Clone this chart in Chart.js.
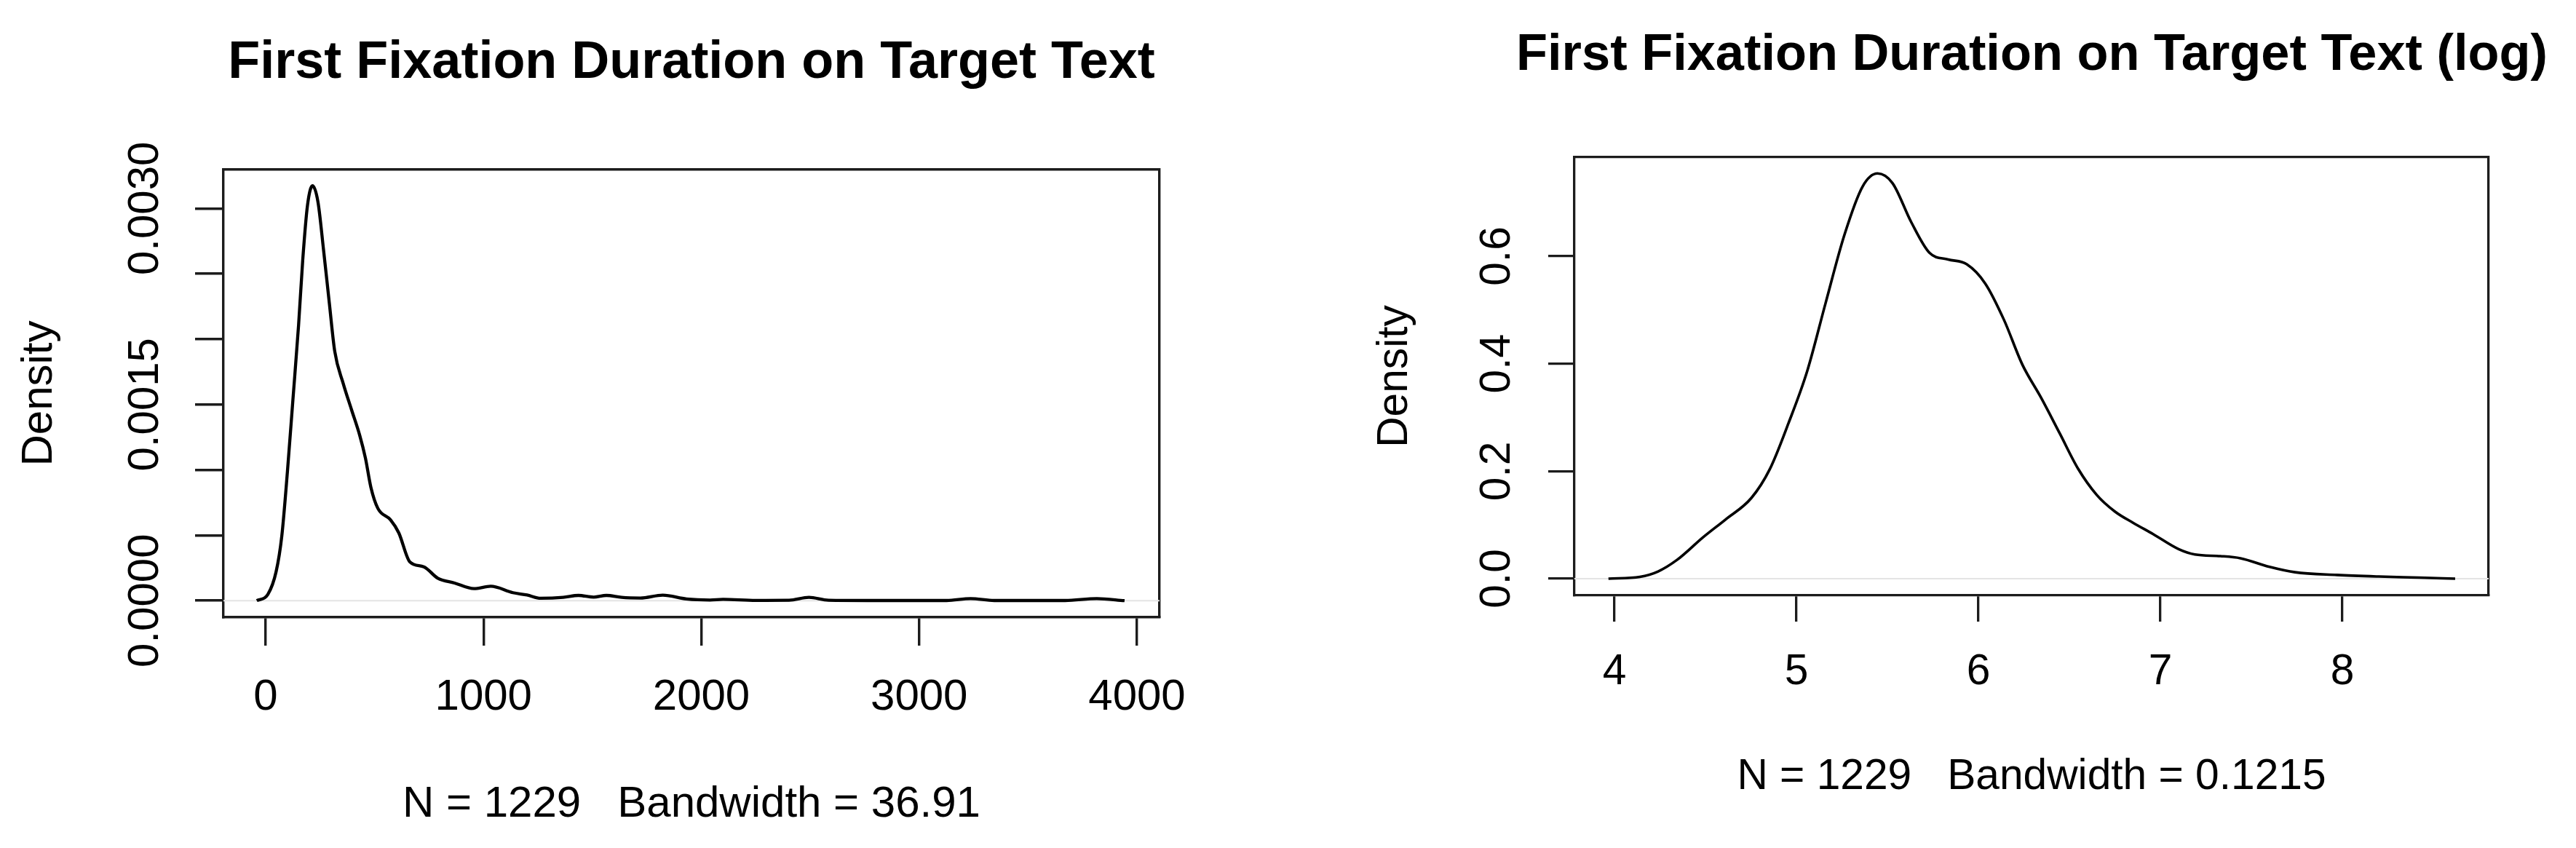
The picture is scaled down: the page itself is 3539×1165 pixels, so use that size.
<!DOCTYPE html>
<html><head><meta charset="utf-8">
<script src="https://cdn.jsdelivr.net/npm/chart.js@4.4.0/dist/chart.umd.min.js"></script>
<style>
html,body{margin:0;padding:0;background:#fff;overflow:hidden;width:3539px;height:1165px}
canvas{position:absolute;top:0}
#cA{left:0}
#cB{left:1850px}
</style></head><body>
<canvas id="cA" width="1900" height="1165"></canvas>
<canvas id="cB" width="1883" height="1165"></canvas>
<script>
// ---------- DATA: raw first fixation duration density ----------
const rawTitle = 'First Fixation Duration on Target Text';
const rawXTitle = 'N = 1229   Bandwidth = 36.91';
const rawX = [-41, 10, 48, 74, 100, 125, 151, 170, 192, 215, 240, 266, 292, 317, 356, 394, 432, 458, 483, 515, 573, 611, 662, 726, 790, 867, 956, 1033, 1135, 1200, 1263, 1366, 1436, 1506, 1564, 1634, 1720, 1823, 1932, 2040, 2100, 2250, 2403, 2494, 2584, 2765, 3126, 3236, 3345, 3670, 3816, 3943];
const rawDensity = [0, 0.000048, 0.000222, 0.000494, 0.00099, 0.001536, 0.002106, 0.002602, 0.003024, 0.003173, 0.00305, 0.002678, 0.00228, 0.001908, 0.001661, 0.001461, 0.001263, 0.00109, 0.000867, 0.000706, 0.000618, 0.000519, 0.000296, 0.000259, 0.000172, 0.000135, 0.000092, 0.00011, 0.000061, 0.000043, 0.000018, 0.000025, 0.00004, 0.000027, 0.00004, 0.000025, 0.00002, 0.000042, 0.000013, 0.000005, 0.00001, 0.000002, 0.000003, 0.000025, 0.000003, 0.000001, 0.000001, 0.000016, 0.000001, 0.000001, 0.000016, 0];
const rawXTicks = [0, 1000, 2000, 3000, 4000];
const rawXTickLabels = ['0', '1000', '2000', '3000', '4000'];
const rawYTicks = [0, 0.0005, 0.001, 0.0015, 0.002, 0.0025, 0.003];
const rawYTickLabels = ['0.0000', '', '', '0.0015', '', '', '0.0030'];
const rawXRange = [-193.8, 4103.6];
const rawYRange = [-0.000127, 0.003297];

// ---------- DATA: log first fixation duration density ----------
const logTitle = 'First Fixation Duration on Target Text (log)';
const logXTitle = 'N = 1229   Bandwidth = 0.1215';
const logX = [3.967, 4.14, 4.24, 4.344, 4.487, 4.61, 4.752, 4.854, 4.956, 5.059, 5.16, 5.263, 5.364, 5.446, 5.528, 5.63, 5.732, 5.834, 5.936, 6.038, 6.14, 6.242, 6.344, 6.446, 6.548, 6.65, 6.75, 6.85, 6.96, 7.10, 7.19, 7.33, 7.44, 7.60, 7.74, 7.97, 8.20, 8.42, 8.62];
const logDensity = [0, 0.0034, 0.0135, 0.035, 0.077, 0.110, 0.150, 0.204, 0.289, 0.386, 0.5125, 0.639, 0.730, 0.754, 0.736, 0.664, 0.606, 0.594, 0.585, 0.549, 0.482, 0.398, 0.337, 0.271, 0.2045, 0.156, 0.125, 0.104, 0.083, 0.055, 0.045, 0.042, 0.038, 0.022, 0.012, 0.007, 0.004, 0.002, 0];
const logXTicks = [4, 5, 6, 7, 8];
const logXTickLabels = ['4', '5', '6', '7', '8'];
const logYTicks = [0, 0.2, 0.4, 0.6];
const logYTickLabels = ['0.0', '0.2', '0.4', '0.6'];
const logXRange = [3.78, 8.804];
const logYRange = [-0.03115, 0.7842];

const yTitleText = 'Density';

// ---------- rendering ----------
const FAMILY = '"Liberation Sans", Arial, Helvetica, sans-serif';
const INK = '#1c1c1c';

function makeChart(canvasId, d, g) {
  const curve = d.x.map((v, i) => ({x: v, y: d.y[i]}));
  const zero = [{x: d.xRange[0], y: 0}, {x: d.xRange[1], y: 0}];
  const f = (size, bold) => ({family: FAMILY, size: size, weight: bold ? 'bold' : 'normal', lineHeight: 1.2});
  const titleH = g.titlePad + g.tfs * 1.2;
  return new Chart(document.getElementById(canvasId), {
    type: 'line',
    data: {
      datasets: [
        {data: curve, borderColor: '#000', borderWidth: g.cw, pointRadius: 0, cubicInterpolationMode: 'monotone', fill: false, order: 1},
        {data: zero, borderColor: '#e4e4e4', borderWidth: 2, pointRadius: 0, fill: false, order: 2}
      ]
    },
    options: {
      responsive: false, animation: false, devicePixelRatio: 1,
      layout: {padding: 0},
      plugins: {
        legend: {display: false}, tooltip: {enabled: false},
        title: {display: true, text: d.title, color: '#000', font: f(g.tfs, true), padding: {top: g.titlePad, bottom: 0}}
      },
      scales: {
        x: {
          type: 'linear', position: 'bottom', min: d.xRange[0], max: d.xRange[1],
          afterBuildTicks: s => { s.ticks = d.xTicks.map(v => ({value: v})); },
          afterFit: s => { s.height = g.xH; },
          ticks: {autoSkip: false, maxRotation: 0, minRotation: 0, color: '#000', font: f(g.fs), padding: g.xTickPad,
                  callback: (v, i) => d.xTickLabels[i]},
          grid: {drawOnChartArea: false, drawTicks: true, tickLength: g.tl, color: INK, lineWidth: g.lw},
          border: {display: true, color: INK, width: g.lw},
          title: {display: true, text: d.xTitle, color: '#000', font: f(g.fs), padding: {top: 0, bottom: g.xTitlePad}}
        },
        x2: {
          type: 'linear', position: 'top', min: d.xRange[0], max: d.xRange[1],
          afterFit: s => { s.height = g.topH - titleH; },
          ticks: {display: false},
          grid: {display: false},
          border: {display: true, color: INK, width: g.lw}
        },
        y: {
          type: 'linear', position: 'left', min: d.yRange[0], max: d.yRange[1],
          afterBuildTicks: s => { s.ticks = d.yTicks.map(v => ({value: v})); },
          afterFit: s => { s.width = g.yW; },
          ticks: {autoSkip: false, minRotation: 90, maxRotation: 90, crossAlign: 'center', color: '#000', font: f(g.fs), padding: g.yTickPad,
                  callback: (v, i) => d.yTickLabels[i]},
          grid: {drawOnChartArea: false, drawTicks: true, tickLength: g.tl, color: INK, lineWidth: g.lw},
          border: {display: true, color: INK, width: g.lw},
          title: {display: true, text: yTitleText, color: '#000', font: f(g.fs), padding: {top: g.yTitlePad, bottom: 0}}
        },
        y2: {
          type: 'linear', position: 'right', min: d.yRange[0], max: d.yRange[1],
          afterFit: s => { s.width = g.rightW; },
          ticks: {display: false},
          grid: {display: false},
          border: {display: true, color: INK, width: g.lw}
        }
      }
    }
  });
}

makeChart('cA',
  {x: rawX, y: rawDensity, xTicks: rawXTicks, xTickLabels: rawXTickLabels, yTicks: rawYTicks, yTickLabels: rawYTickLabels,
   xRange: rawXRange, yRange: rawYRange, title: rawTitle, xTitle: rawXTitle},
  {fs: 60, tfs: 72, lw: 3.4, cw: 4.3, tl: 39, yW: 307, rightW: 1900 - 1593, topH: 233, xH: 1165 - 848,
   xTickPad: 35.5, xTitlePad: 24, yTickPad: -23.75, yTitlePad: 18.5, titlePad: 44});

makeChart('cB',
  {x: logX, y: logDensity, xTicks: logXTicks, xTickLabels: logXTickLabels, yTicks: logYTicks, yTickLabels: logYTickLabels,
   xRange: logXRange, yRange: logYRange, title: logTitle, xTitle: logXTitle},
  {fs: 58.7, tfs: 70.4, lw: 3.3, cw: 3.6, tl: 36, yW: 2163 - 1850, rightW: 1883 - (3419 - 1850), topH: 216, xH: 1165 - 818,
   xTickPad: 34.8, xTitlePad: 61.8, yTickPad: 28.2, yTitlePad: 31.8, titlePad: 34});
</script>
</body></html>
